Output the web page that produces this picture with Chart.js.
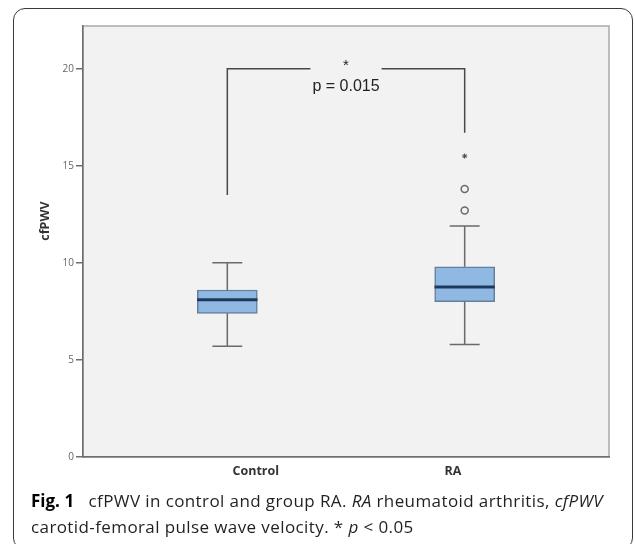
<!DOCTYPE html>
<html>
<head>
<meta charset="utf-8">
<title>cfPWV boxplot</title>
<script src="https://cdn.jsdelivr.net/npm/chart.js@4"></script>
<style>
	html, body { margin: 0; padding: 0; background: #fff; }
	body { width: 635px; height: 544px; position: relative; overflow: hidden; }
	#frame {
		position: absolute; left: 13px; top: 8px; width: 620px; height: 542px;
		border: 1px solid #3a3a3a; border-radius: 12px; box-sizing: border-box;
	}
	#chart { position: absolute; left: 0; top: 0; }
	#caption {
		position: absolute; left: 31px; top: 488px;
		font-family: "Open Sans", sans-serif; font-size: 17px; line-height: 26px;
		letter-spacing: 0.4px; color: #231f20; white-space: nowrap;
	}
	#caption b { color: #000; letter-spacing: 0; }
</style>
</head>
<body>
<div id="frame"></div>
<canvas id="chart" width="635" height="490"></canvas>
<div id="caption"><b>Fig. 1</b>&nbsp;&nbsp; cfPWV in control and group RA. <i>RA</i> rheumatoid arthritis, <i>cfPWV</i><br>carotid-femoral pulse wave velocity. * <i>p</i> &lt; 0.05</div>
<script>
// groups and box statistics
const groups = ["Control", "RA"];
const whiskerLow = [5.7, 5.8];
const q1 = [7.4, 8.0];
const median = [8.1, 8.75];
const q3 = [8.6, 9.8];
const whiskerHigh = [10.0, 11.9];
const outliers = [[], [12.7, 13.8]];
const extremes = [[], [15.5]];

const yTicks = [0, 5, 10, 15, 20];
const yTitle = "cfPWV";

// significance bracket
const bracketTop = 20;
const bracketFeet = [13.5, 16.7];
const pLabel = "p = 0.015";
const starLabel = "*";

// drawing constants
const BOX_HALF = 0.127;
const CAP_HALF = 0.063;
const GAP_HALF = 0.15;
const LABEL_SHIFT = [0.12, -0.05]; // SPSS puts the labels a bit off centre

const gap = { x: 0.5, y: null };

function segments(list) {
	const out = [];
	list.forEach((s, i) => {
		if (i > 0) out.push(gap);
		out.push(s[0], s[1]);
	});
	return out;
}

const whiskerSegs = segments(groups.flatMap((g, i) => [
	[{ x: i, y: q3[i] }, { x: i, y: whiskerHigh[i] }],
	[{ x: i, y: q1[i] }, { x: i, y: whiskerLow[i] }],
	[{ x: i - CAP_HALF, y: whiskerHigh[i] }, { x: i + CAP_HALF, y: whiskerHigh[i] }],
	[{ x: i - CAP_HALF, y: whiskerLow[i] }, { x: i + CAP_HALF, y: whiskerLow[i] }]
]));

const medianSegs = segments(groups.map((g, i) =>
	[{ x: i - BOX_HALF, y: median[i] }, { x: i + BOX_HALF, y: median[i] }]
));

const bracket = [
	{ x: 0, y: bracketFeet[0] }, { x: 0, y: bracketTop }, { x: 0.5 - GAP_HALF, y: bracketTop },
	gap,
	{ x: 0.5 + GAP_HALF, y: bracketTop }, { x: 1, y: bracketTop }, { x: 1, y: bracketFeet[1] }
];

const plotBackground = {
	id: "plotBackground",
	beforeDraw(chart) {
		const { ctx, chartArea: a } = chart;
		ctx.save();
		ctx.fillStyle = "#f2f2f2";
		ctx.fillRect(a.left, a.top, a.right - a.left, a.bottom - a.top);
		ctx.strokeStyle = "#a9a9a9";
		ctx.lineWidth = 1.5;
		ctx.strokeRect(a.left, a.top, a.right - a.left, a.bottom - a.top);
		ctx.restore();
	}
};

const annotations = {
	id: "annotations",
	afterDraw(chart) {
		const { ctx, scales: { x, y } } = chart;
		ctx.save();
		ctx.textAlign = "center";
		ctx.textBaseline = "middle";
		ctx.fillStyle = "#222";
		ctx.font = "16px 'Liberation Sans', Arial, sans-serif";
		ctx.fillText(pLabel, x.getPixelForValue(0.5), y.getPixelForValue(19.08));
		ctx.font = "15px 'Liberation Sans', Arial, sans-serif";
		ctx.fillText(starLabel, x.getPixelForValue(0.5), y.getPixelForValue(20.15));

		// y title, SPSS centres it a little above the middle
		ctx.translate(45, 221);
		ctx.rotate(-Math.PI / 2);
		ctx.fillStyle = "#333";
		ctx.font = "bold 12.5px 'Open Sans', sans-serif";
		ctx.fillText(yTitle, 0, 0);
		ctx.restore();
	}
};

new Chart(document.getElementById("chart").getContext("2d"), {
	type: "bar",
	data: {
		datasets: [
			{
				type: "bar",
				order: 3,
				data: groups.map((g, i) => ({ x: i, y: [q1[i], q3[i]] })),
				backgroundColor: "#8fb9e3",
				borderColor: "#647f9c",
				borderWidth: 1.5,
				borderSkipped: false,
				barThickness: 60
			},
			{
				type: "line",
				order: 2,
				data: whiskerSegs,
				borderColor: "#6a6a6a",
				borderWidth: 1.5,
				pointRadius: 0,
				spanGaps: false
			},
			{
				type: "line",
				order: 1,
				data: medianSegs,
				borderColor: "#1d3a5e",
				borderWidth: 3,
				pointRadius: 0,
				spanGaps: false
			},
			{
				type: "line",
				order: 1,
				data: bracket,
				borderColor: "#484848",
				borderWidth: 1.5,
				pointRadius: 0,
				spanGaps: false
			},
			{
				type: "scatter",
				order: 1,
				data: groups.flatMap((g, i) => outliers[i].map(v => ({ x: i, y: v }))),
				pointStyle: "circle",
				pointRadius: 3.5,
				borderColor: "#6a6a6a",
				borderWidth: 1.5,
				backgroundColor: "rgba(0,0,0,0)"
			},
			{
				type: "scatter",
				order: 1,
				data: groups.flatMap((g, i) => extremes[i].map(v => ({ x: i, y: v }))),
				pointStyle: "star",
				pointRadius: 2.5,
				borderColor: "#444",
				borderWidth: 1
			}
		]
	},
	options: {
		responsive: false,
		animation: false,
		layout: {
			padding: { left: 0, right: 26, top: 26, bottom: 0 }
		},
		plugins: {
			legend: { display: false },
			tooltip: { enabled: false }
		},
		scales: {
			x: {
				type: "linear",
				min: -0.608,
				max: 1.608,
				offset: false,
				grid: { display: false, drawTicks: false },
				border: { display: true, color: "#6e6e6e", width: 1.5 },
				afterBuildTicks: (scale) => {
					scale.ticks = groups.map((g, i) => ({ value: i + LABEL_SHIFT[i] }));
				},
				afterFit: (scale) => {
					scale.height = 33;
				},
				ticks: {
					padding: 7,
					color: "#333",
					font: { family: "'Open Sans', sans-serif", size: 12.5, weight: "bold" },
					callback: (value, index) => groups[index]
				}
			},
			y: {
				min: 0,
				max: 22.2,
				grid: {
					drawOnChartArea: false,
					drawTicks: true,
					tickLength: 7,
					color: "#6e6e6e",
					lineWidth: 1.5
				},
				border: { display: true, color: "#6e6e6e", width: 1.5 },
				afterBuildTicks: (scale) => {
					scale.ticks = yTicks.map(v => ({ value: v }));
				},
				afterFit: (scale) => {
					scale.width = 83;
				},
				ticks: {
					padding: 2,
					color: "#666",
					font: { family: "'Open Sans', sans-serif", size: 10 }
				}
			}
		}
	},
	plugins: [plotBackground, annotations]
});
</script>
</body>
</html>
